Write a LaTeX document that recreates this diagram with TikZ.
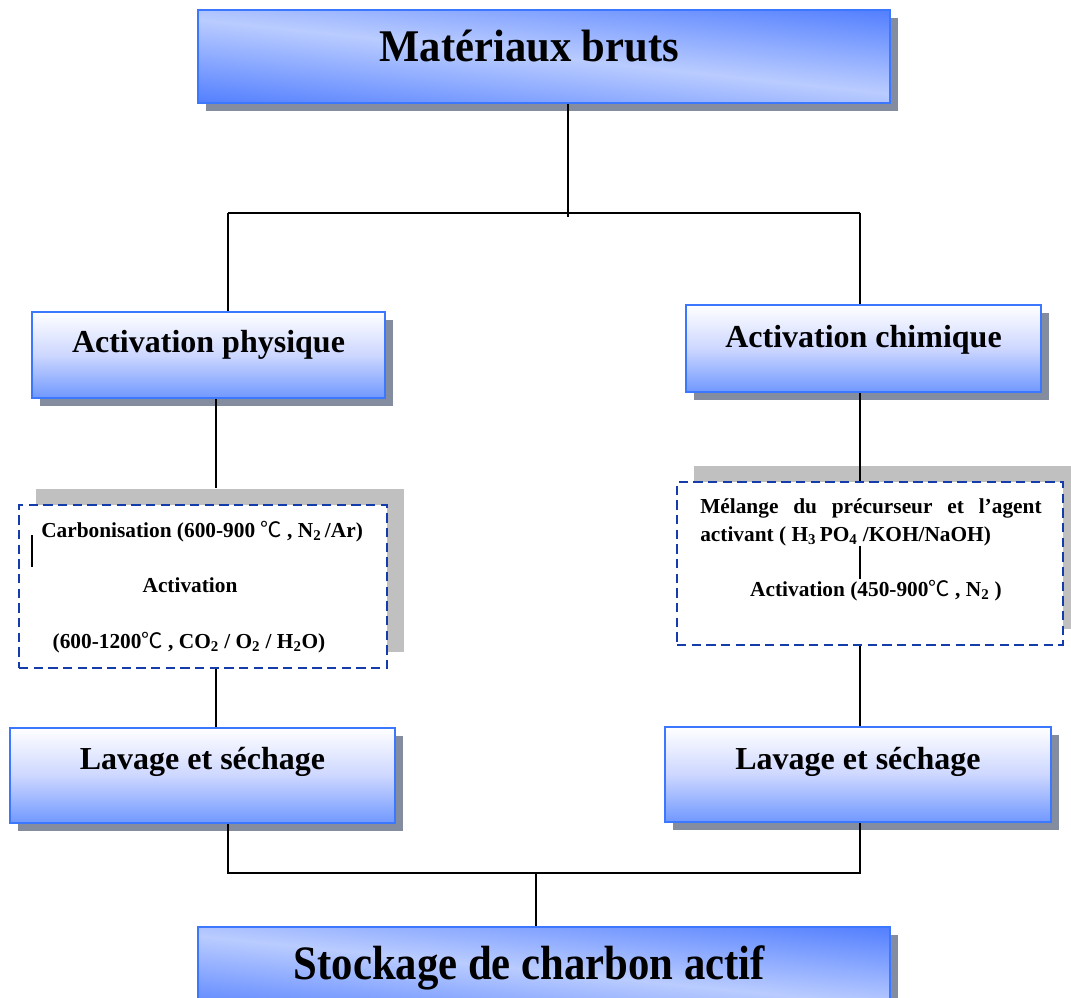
\documentclass[tikz,border=0pt]{standalone}
\usepackage{graphicx}
\usepackage{fontspec}
\setmainfont{Liberation Serif}
\newfontfamily\cjk{Noto Sans CJK SC}
\usetikzlibrary{shadows, calc}
\definecolor{edgeblue}{RGB}{60,120,255}
\definecolor{midblue}{RGB}{205,215,255}
\definecolor{lowblue}{RGB}{112,152,255}
\definecolor{shadowgray}{RGB}{132,140,160}
\definecolor{dashblue}{RGB}{20,60,170}
\definecolor{groupgray}{RGB}{192,192,192}
\newcommand{\degC}{{\mdseries\cjk ℃}}
\newcommand{\squeeze}[2]{\scalebox{#1}[1]{#2}\hspace*{22pt}}
% light band from top left to bottom right, dark corners
\pgfdeclarefunctionalshading{slantband}{\pgfpoint{-50bp}{-50bp}}{\pgfpoint{50bp}{50bp}}{}{
  0.01 mul exch 0.008 mul add abs 0.55 div dup 1 gt {pop 1} if
  dup -0.494 mul 0.729 add exch -0.369 mul 0.8 add 1
}
\tikzset{
    stagebig/.style={rectangle, draw=edgeblue, line width=1.8pt, inner sep=0pt, minimum width=519pt, minimum height=69.75pt,
        shade, shading=slantband,
        drop shadow={shadow xshift=6pt, shadow yshift=-6pt, fill=shadowgray, opacity=1},
        font=\bfseries\fontsize{34}{38}\selectfont},
    stagebox/.style={rectangle, draw=edgeblue, line width=1.8pt, inner sep=0pt,
        top color=white, bottom color=lowblue, middle color=midblue,
        drop shadow={shadow xshift=6pt, shadow yshift=-6pt, fill=shadowgray, opacity=1},
        font=\bfseries\fontsize{24}{28}\selectfont, text height=16pt},
    stepgroup/.style={rectangle, draw=dashblue, line width=1.5pt, dash pattern=on 7pt off 4pt, fill=white, inner sep=0pt,
        drop shadow={shadow xshift=13pt, shadow yshift=12pt, fill=groupgray, opacity=1}},
    steptext/.style={inner sep=0pt, font=\bfseries\fontsize{16}{19}\selectfont},
    link/.style={draw=black, line width=1.1pt},
}
\begin{document}
\begin{tikzpicture}[x=0.75pt, y=-0.75pt]
\useasboundingbox (0,0) rectangle (1071,998);

% ===== main stages =====
\node[stagebig, text height=23pt, text depth=15pt] (raw) at (544,56.5) {\squeeze{0.94}{Matériaux bruts}};
\node[stagebox, minimum width=264.75pt, minimum height=64.5pt, text depth=19.6pt] (phys) at (208.5,355) {Activation physique};
\node[stagebox, minimum width=266.25pt, minimum height=65.25pt, text depth=17.3pt] (chim) at (863.5,348.5) {Activation chimique};

% ===== process groups =====
\node[stepgroup, minimum width=276pt, minimum height=122.25pt] (grpL) at (203,586.5) {};
\node[stepgroup, minimum width=289.5pt, minimum height=122.25pt] (grpR) at (870,563.5) {};

\node[steptext, anchor=base west] (carb) at (41,537) {Carbonisation (600-900 \degC{} , N\textsubscript{2}\,/Ar)};
\node[steptext, anchor=base] (actL) at (190,592) {Activation};
\node[steptext, anchor=base] (condL) at (189,648) {(600-1200\degC{} , CO\textsubscript{2} / O\textsubscript{2} / H\textsubscript{2}O)};

\node[steptext, anchor=base west] (mixA) at (700,513) {\hbox to 256pt{Mélange\hfill du\hfill précurseur\hfill et\hfill l’agent}};
\node[steptext, anchor=base west] (mixB) at (700,541) {activant ( H\textsubscript{3}\,PO\textsubscript{4} /KOH/NaOH)};
\node[steptext, anchor=base] (actR) at (876,596) {Activation (450-900\degC{} , N\textsubscript{2} )};

% ===== washing + storage =====
\node[stagebox, minimum width=288.75pt, minimum height=71.25pt, text depth=25pt] (lavL) at (202.5,775.5) {Lavage et séchage};
\node[stagebox, minimum width=289.5pt, minimum height=71.25pt, text depth=24pt] (lavR) at (858,774.5) {Lavage et séchage};
\node[stagebig, minimum height=66pt, text height=25pt, text depth=12pt, font=\bfseries\fontsize{36}{40}\selectfont] (store) at (544,971) {\squeeze{0.89}{Stockage de charbon actif}};

% ===== connectors =====
\coordinate (splitT) at (568,213);
\coordinate (splitL) at (228,213);
\coordinate (splitR) at (860,213);
\coordinate (colL) at (216,450);
\coordinate (colR) at (860,450);
\coordinate (mergeL) at (228,873);
\coordinate (mergeR) at (860,873);
\coordinate (mergeC) at (536,873);
\coordinate (tickA) at (32,535);
\coordinate (tickB) at (32,567);

\draw[link] (raw.south -| splitT) -- ([yshift=-3pt]splitT);
\draw[link] (splitL) -- (splitR);
\draw[link] (splitL) -- (splitL |- phys.north);
\draw[link] (splitR) -- (splitR |- chim.north);
\draw[link] (phys.south -| colL) -- ([yshift=12pt]grpL.north -| colL);
\draw[link] (grpL.south -| colL) -- (lavL.north -| colL);
\draw[link] (chim.south -| colR) -- (grpR.north -| colR);
\draw[link] (grpR.south -| colR) -- (lavR.north -| colR);
\draw[link] (mixB.south -| colR) -- (actR.north -| colR);
\draw[link] (tickA) -- (tickB);
\draw[link] (lavL.south -| mergeL) -- (mergeL) -- (mergeR) -- (lavR.south -| mergeR);
\draw[link] (mergeC) -- (mergeC |- store.north);

\end{tikzpicture}
\end{document}
